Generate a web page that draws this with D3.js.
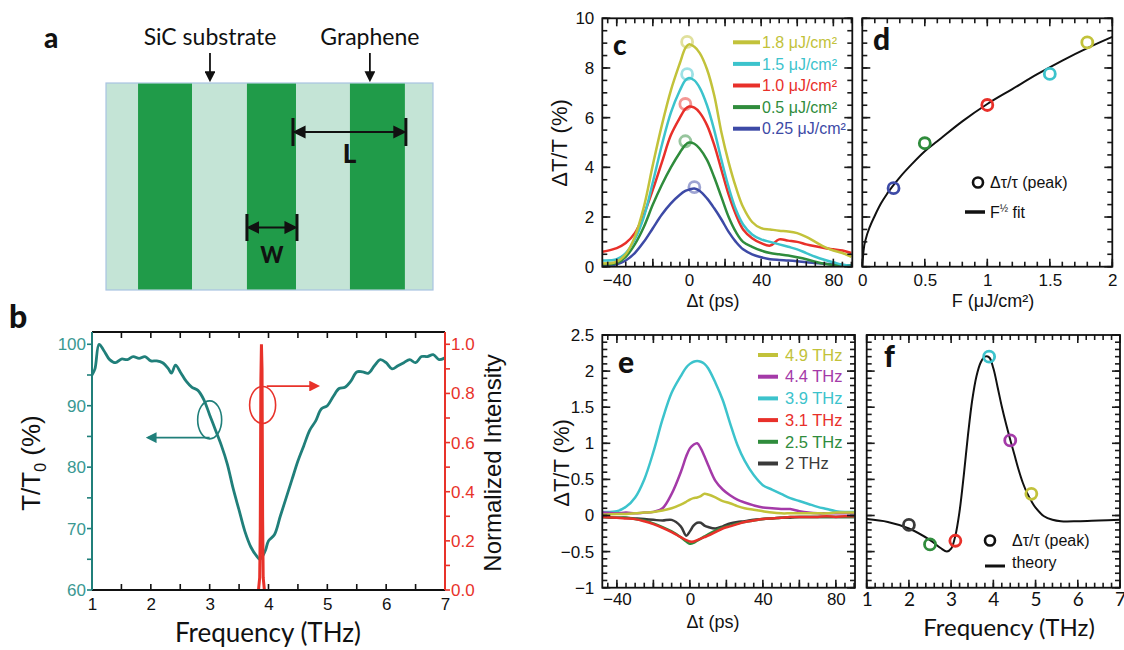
<!DOCTYPE html>
<html>
<head>
<meta charset="utf-8">
<script src="https://cdn.jsdelivr.net/npm/d3@7"></script>
<style>
  body { margin: 0; background: #fff; }
  svg { display: block; font-family: "Liberation Sans", Arial, sans-serif; }
</style>
</head>
<body>
<svg id="fig" width="1124" height="650"></svg>
<script>
// ----- data -----

// panel a: stripe layout (in % of the sample width)
const aStripes = [[9.8, 26.3], [43.1, 58.1], [74.6, 91.4]];
const aArrows = [{ label: "SiC substrate", at: 31.8 }, { label: "Graphene", at: 80.7 }];

// panel b: transmission and laser line
const bFreq = [1.0, 1.05, 1.12, 1.2, 1.3, 1.4, 1.5, 1.6, 1.7, 1.8, 1.9, 2.0, 2.1, 2.2, 2.3, 2.35, 2.42, 2.5, 2.6, 2.7, 2.8, 2.9, 3.0, 3.1, 3.2, 3.3, 3.4, 3.5, 3.6, 3.7, 3.8, 3.85, 3.9, 3.95, 4.0, 4.1, 4.2, 4.3, 4.4, 4.5, 4.6, 4.7, 4.8, 4.9, 5.0, 5.1, 5.2, 5.3, 5.4, 5.5, 5.6, 5.7, 5.8, 5.9, 6.0, 6.1, 6.2, 6.3, 6.4, 6.5, 6.6, 6.7, 6.8, 6.9, 7.0];
const bTrans = [95, 96, 100, 99, 97.5, 97, 97.6, 97.5, 98, 97.7, 98, 97.3, 97.3, 97, 96, 95.3, 96.6, 95.5, 94, 93, 92.5, 91, 88.5, 86, 83.5, 80.5, 76.5, 73, 69.5, 67, 65.5, 65, 65.5, 66.5, 68, 69, 72, 75, 78, 81, 83.5, 86, 87.5, 89.5, 90, 91.5, 92.8, 93, 94, 95.5, 95.5, 95.3, 96.5, 97.5, 97, 96, 96.5, 97, 97.5, 97, 98, 98, 98.3, 97.5, 97.8];
const bLaserFreq = [3.83, 3.85, 3.86, 3.87, 3.88, 3.89, 3.90, 3.91, 3.93];
const bLaserInt = [0, 0.05, 0.25, 0.85, 1.0, 0.9, 0.3, 0.05, 0];

// panel c: pump-fluence dependence
const cTime = [-48, -40, -35, -30, -25, -20, -15, -10, -5, -2, 0, 3, 6, 10, 14, 18, 22, 26, 30, 35, 40, 45, 50, 55, 60, 65, 70, 75, 80, 85, 90];
const cLabels = ["1.8 μJ/cm²", "1.5 μJ/cm²", "1.0 μJ/cm²", "0.5 μJ/cm²", "0.25 μJ/cm²"];
const cColors = ["#c2c23a", "#3cc3cc", "#e8302a", "#2f8c3c", "#3d4aa6"];
const c18 = [0.13, 0.2, 0.5, 1.2, 2.4, 4.1, 5.7, 7.1, 8.2, 8.8, 8.95, 8.85, 8.6, 7.95, 6.9, 5.4, 4.2, 3.2, 2.4, 1.8, 1.55, 1.5, 1.45, 1.42, 1.35, 1.2, 1.0, 0.8, 0.65, 0.55, 0.4];
const c15 = [0.25, 0.3, 0.55, 1.1, 2.0, 3.4, 4.9, 6.2, 7.1, 7.5, 7.6, 7.5, 7.2, 6.5, 5.5, 4.3, 3.2, 2.3, 1.7, 1.3, 1.1, 1.0, 0.9, 0.8, 0.7, 0.55, 0.4, 0.28, 0.18, 0.08, 0.03];
const c10 = [0.6, 0.75, 0.95, 1.35, 2.1, 3.1, 4.2, 5.3, 6.0, 6.35, 6.45, 6.4, 6.2, 5.7, 4.9, 3.9, 2.9, 2.1, 1.5, 1.15, 0.95, 0.85, 1.1, 1.05, 1.0, 0.9, 0.82, 0.75, 0.7, 0.65, 0.55];
const c05 = [0.1, 0.15, 0.4, 0.9, 1.6, 2.5, 3.3, 4.0, 4.6, 4.9, 5.0, 4.95, 4.75, 4.3, 3.6, 2.8, 2.0, 1.4, 1.0, 0.8, 0.65, 0.55, 0.5, 0.45, 0.38, 0.3, 0.2, 0.12, 0.07, 0.05, 0.05];
const c025 = [0.05, 0.1, 0.25, 0.55, 1.0, 1.55, 2.1, 2.55, 2.9, 3.05, 3.1, 3.15, 3.05, 2.75, 2.35, 1.9, 1.4, 1.0, 0.7, 0.5, 0.38, 0.3, 0.27, 0.25, 0.22, 0.18, 0.15, 0.12, 0.1, 0.07, 0.05];
const cPeakTime = [-1, -1, -2, -2, 3];
const cPeakVal = [9.05, 7.75, 6.55, 5.05, 3.2];

// panel d: peak vs fluence
const dFluence = [0.25, 0.5, 1, 1.5, 1.8];
const dPeak = [3.16, 4.97, 6.51, 7.76, 9.03];
const dColors = ["#3d4aa6", "#2f8c3c", "#e8302a", "#3cc3cc", "#c2c23a"];
const dFitF = [0, 0.01, 0.03, 0.06, 0.1, 0.15, 0.2, 0.3, 0.4, 0.5, 0.6, 0.8, 1.0, 1.2, 1.4, 1.6, 1.8, 2.0];
const dFitV = [0, 0.65, 1.15, 1.6, 2.05, 2.55, 2.95, 3.6, 4.15, 4.65, 5.05, 5.85, 6.55, 7.15, 7.75, 8.3, 8.8, 9.25];

// panel e: probe-frequency dependence
const eTime = [-48, -40, -35, -30, -25, -20, -15, -10, -5, -2, 0, 2, 4, 6, 8, 10, 14, 18, 22, 26, 30, 35, 40, 45, 50, 55, 60, 65, 70, 75, 80, 85, 90];
const eLabels = ["4.9 THz", "4.4 THz", "3.9 THz", "3.1 THz", "2.5 THz", "2 THz"];
const eColors = ["#c2c23a", "#a43aa8", "#3cc3cc", "#e8302a", "#2f8c3c", "#3a3a3a"];
const e49 = [0.01, 0.02, 0.02, 0.03, 0.04, 0.05, 0.07, 0.1, 0.15, 0.19, 0.22, 0.24, 0.25, 0.27, 0.3, 0.29, 0.25, 0.2, 0.17, 0.13, 0.1, 0.08, 0.06, 0.04, 0.03, 0.03, 0.03, 0.03, 0.03, 0.03, 0.04, 0.04, 0.04];
const e44 = [0.04, 0.03, 0.04, 0.03, 0.04, 0.05, 0.1, 0.3, 0.6, 0.82, 0.93, 0.98, 1.0, 0.93, 0.82, 0.7, 0.48, 0.36, 0.28, 0.22, 0.18, 0.14, 0.11, 0.1, 0.09, 0.09, 0.06, 0.04, 0.03, 0.03, 0.03, 0.03, 0.03];
const e39 = [0.05, 0.06, 0.12, 0.25, 0.5, 0.88, 1.33, 1.7, 1.93, 2.05, 2.1, 2.13, 2.14, 2.13, 2.1, 2.04, 1.84, 1.6, 1.28, 0.98, 0.76, 0.56, 0.42, 0.36, 0.3, 0.24, 0.2, 0.16, 0.12, 0.09, 0.06, 0.05, 0.05];
const e31 = [-0.02, -0.03, -0.04, -0.05, -0.08, -0.12, -0.17, -0.23, -0.3, -0.34, -0.36, -0.36, -0.34, -0.32, -0.3, -0.28, -0.23, -0.18, -0.15, -0.12, -0.09, -0.07, -0.05, -0.04, -0.03, -0.02, -0.02, -0.02, -0.02, -0.01, -0.02, -0.01, -0.01];
const e25 = [-0.02, -0.03, -0.03, -0.05, -0.07, -0.11, -0.16, -0.22, -0.3, -0.36, -0.39, -0.38, -0.35, -0.32, -0.29, -0.26, -0.21, -0.17, -0.14, -0.11, -0.09, -0.07, -0.05, -0.04, -0.03, -0.02, -0.02, -0.02, -0.02, -0.02, -0.02, -0.02, -0.02];
const e20 = [-0.02, -0.03, -0.03, -0.04, -0.05, -0.06, -0.07, -0.06, -0.15, -0.28, -0.22, -0.14, -0.1, -0.1, -0.14, -0.16, -0.18, -0.15, -0.11, -0.09, -0.08, -0.06, -0.05, -0.04, -0.03, -0.03, -0.02, -0.02, -0.02, -0.02, -0.02, -0.02, -0.02];

// panel f: peak vs probe frequency
const fFreq = [2, 2.5, 3.1, 3.9, 4.4, 4.9];
const fPeak = [-0.13, -0.4, -0.35, 2.2, 1.04, 0.3];
const fColors = ["#3a3a3a", "#2f8c3c", "#e8302a", "#3cc3cc", "#a43aa8", "#c2c23a"];
const fTheoryF = [1, 1.5, 2, 2.5, 2.75, 2.9, 3.0, 3.1, 3.2, 3.3, 3.4, 3.5, 3.6, 3.7, 3.8, 3.9, 4.0, 4.1, 4.2, 4.3, 4.4, 4.5, 4.6, 4.7, 4.8, 4.9, 5.0, 5.2, 5.4, 5.6, 6, 6.5, 7];
const fTheoryV = [-0.05, -0.09, -0.18, -0.34, -0.45, -0.5, -0.46, -0.28, 0.06, 0.56, 1.12, 1.6, 1.93, 2.12, 2.2, 2.19, 2.04, 1.78, 1.51, 1.27, 1.05, 0.84, 0.63, 0.45, 0.31, 0.2, 0.11, -0.01, -0.06, -0.08, -0.08, -0.07, -0.06];

// ----- drawing -----
const svg = d3.select("#fig");
const TEAL = "#207f7a", TEAL_TXT = "#3a9892", RED = "#e8322a";
const ARIAL = "Liberation Sans, Arial, sans-serif";
const CAL = "Lato, 'Open Sans', sans-serif";

const defs = svg.append("defs");
function marker(id, color) {
  defs.append("marker").attr("id", id).attr("viewBox", "0 0 10 10")
    .attr("refX", 8).attr("refY", 5).attr("markerWidth", 6).attr("markerHeight", 6)
    .attr("orient", "auto-start-reverse")
    .append("path").attr("d", "M0,0 L10,5 L0,10 z").attr("fill", color);
}
marker("arrBlack", "#111");
marker("arrTeal", TEAL);
marker("arrRed", RED);

function clip(id, x, y) {
  defs.append("clipPath").attr("id", id).append("rect")
    .attr("x", x.range()[0]).attr("y", y.range()[1])
    .attr("width", x.range()[1] - x.range()[0]).attr("height", y.range()[0] - y.range()[1]);
}

// tick marks: side = "bottom" | "top" | "left" | "right", len > 0 points into the plot
function tickMarks(g, scale, vals, side, at, len, color) {
  const horiz = side === "bottom" || side === "top";
  const dir = (side === "bottom" || side === "right") ? -1 : 1;
  g.append("g").selectAll("line").data(vals).enter().append("line")
    .attr("x1", d => horiz ? scale(d) : at)
    .attr("x2", d => horiz ? scale(d) : at + dir * len)
    .attr("y1", d => horiz ? at : scale(d))
    .attr("y2", d => horiz ? at + dir * len : scale(d))
    .attr("stroke", color || "#1a1a1a").attr("stroke-width", 1.6);
}

// tick labels from d3 axes
function labels(g, axis, tr, vals, fmt, pad, font, family, color) {
  g.append("g").attr("transform", tr)
    .call(axis.tickValues(vals).tickSize(0).tickPadding(pad).tickFormat(fmt))
    .call(s => s.select(".domain").remove())
    .call(s => s.selectAll("line").remove())
    .attr("font-size", font).attr("font-family", family)
    .selectAll("text").attr("fill", color || "#111");
}

// frame with inward ticks on all four sides
function box(x, y, o) {
  const g = svg.append("g");
  const [x0, x1] = x.range(), [y0, y1] = y.range();
  tickMarks(g, x, o.xMinor, "bottom", y0, 5);
  tickMarks(g, x, o.xMajor, "bottom", y0, 8);
  tickMarks(g, x, o.xMinor, "top", y1, 5);
  tickMarks(g, x, o.xMajor, "top", y1, 8);
  tickMarks(g, y, o.yMinor, "left", x0, 5);
  tickMarks(g, y, o.yMajor, "left", x0, 8);
  tickMarks(g, y, o.yMinor, "right", x1, 5);
  tickMarks(g, y, o.yMajor, "right", x1, 8);
  if (o.xFmt) labels(g, d3.axisBottom(x), `translate(0,${y0})`, o.xMajor, o.xFmt, o.xPad, o.font || 17, o.family || ARIAL);
  if (o.yFmt) labels(g, d3.axisLeft(y), `translate(${x0},0)`, o.yMajor, o.yFmt, o.yPad, o.font || 17, o.family || ARIAL);
  g.append("rect").attr("x", x0).attr("y", y1).attr("width", x1 - x0).attr("height", y0 - y1)
    .attr("fill", "none").attr("stroke", "#111").attr("stroke-width", 1.8);
  return g;
}

function panelLabel(t, x, y, size) {
  svg.append("text").attr("x", x).attr("y", y).text(t)
    .attr("font-family", CAL).attr("font-weight", "900").attr("font-size", size || 26).attr("fill", "#111");
}

// ===== panel a =====
const aX = d3.scaleLinear().domain([0, 100]).range([106, 433]);
const aTop = 83, aBot = 290;
svg.append("rect").attr("x", aX(0)).attr("y", aTop).attr("width", aX(100) - aX(0)).attr("height", aBot - aTop)
  .attr("fill", "#c4e4d6").attr("stroke", "#a9c3e2").attr("stroke-width", 1.2);
svg.selectAll(".stripe").data(aStripes).enter().append("rect")
  .attr("x", d => aX(d[0])).attr("y", aTop + 0.6).attr("width", d => aX(d[1]) - aX(d[0])).attr("height", aBot - aTop - 1.2)
  .attr("fill", "#209b49");
aArrows.forEach(a => {
  svg.append("text").attr("x", aX(a.at)).attr("y", 45).attr("text-anchor", "middle")
    .attr("font-family", CAL).attr("font-size", 23).attr("fill", "#111").text(a.label);
  svg.append("line").attr("x1", aX(a.at)).attr("x2", aX(a.at)).attr("y1", 53).attr("y2", 80)
    .attr("stroke", "#111").attr("stroke-width", 1.8).attr("marker-end", "url(#arrBlack)");
});
function dimension(xa, xb, yTop, yBot, label, ly, size) {
  const ym = (yTop + yBot) / 2;
  [xa, xb].forEach(v => svg.append("line").attr("x1", v).attr("x2", v).attr("y1", yTop).attr("y2", yBot)
    .attr("stroke", "#111").attr("stroke-width", 3));
  svg.append("line").attr("x1", xa + 2).attr("x2", xb - 2).attr("y1", ym).attr("y2", ym)
    .attr("stroke", "#111").attr("stroke-width", 2.2)
    .attr("marker-start", "url(#arrBlack)").attr("marker-end", "url(#arrBlack)");
  svg.append("text").attr("x", (xa + xb) / 2).attr("y", ly).attr("text-anchor", "middle")
    .attr("font-family", CAL).attr("font-weight", "900").attr("font-size", size).attr("fill", "#111").text(label);
}
dimension(aX(aStripes[1][1]) - 3, aX(aStripes[2][1]) + 1, 118, 146, "L", 163, 26);
dimension(aX(aStripes[1][0]), aX(aStripes[1][1]) + 1, 214, 241, "W", 263, 22);
panelLabel("a", 44, 48, 28);

// ===== panel b =====
const bX = d3.scaleLinear().domain([1, 7]).range([92, 445]);
const bYL = d3.scaleLinear().domain([60, 102]).range([590, 332]);
const bYR = d3.scaleLinear().domain([0, 1.05]).range([590, 332]);
clip("clipB", bX, bYL);

svg.append("path").datum(bFreq.map((f, i) => [f, bTrans[i]]))
  .attr("clip-path", "url(#clipB)")
  .attr("fill", "none").attr("stroke", TEAL).attr("stroke-width", 2.8)
  .attr("d", d3.line().x(d => bX(d[0])).y(d => bYL(d[1])).curve(d3.curveCatmullRom));
svg.append("path").datum(bLaserFreq.map((f, i) => [f, bLaserInt[i]]))
  .attr("fill", "none").attr("stroke", RED).attr("stroke-width", 3)
  .attr("d", d3.line().x(d => bX(d[0])).y(d => bYR(d[1])));

// annotations
svg.append("ellipse").attr("cx", bX(3.0)).attr("cy", bYL(87.7)).attr("rx", 12).attr("ry", 19)
  .attr("fill", "none").attr("stroke", TEAL).attr("stroke-width", 1.6);
svg.append("line").attr("x1", bX(3.0)).attr("x2", bX(1.95)).attr("y1", bYL(84.8)).attr("y2", bYL(84.8))
  .attr("stroke", TEAL).attr("stroke-width", 1.8).attr("marker-end", "url(#arrTeal)");
svg.append("ellipse").attr("cx", bX(3.9)).attr("cy", bYR(0.753)).attr("rx", 13).attr("ry", 18.5)
  .attr("fill", "none").attr("stroke", RED).attr("stroke-width", 1.6);
svg.append("line").attr("x1", bX(3.97)).attr("x2", bX(4.84)).attr("y1", bYR(0.83)).attr("y2", bYR(0.83))
  .attr("stroke", RED).attr("stroke-width", 1.8).attr("marker-end", "url(#arrRed)");

// axes of b
const bG = svg.append("g");
const bXTicks = d3.range(1, 7.01, 0.5);
tickMarks(bG, bX, bXTicks, "bottom", 590, 6, "#111");
tickMarks(bG, bX, bXTicks, "top", 332, 6, "#111");
tickMarks(bG, bYL, d3.range(60, 101, 5), "left", 92, -5, TEAL);
tickMarks(bG, bYR, d3.range(0, 1.01, 0.1), "right", 445, -5, RED);
labels(bG, d3.axisBottom(bX), "translate(0,590)", d3.range(1, 8), d3.format("d"), 8, 17, ARIAL);
labels(bG, d3.axisLeft(bYL), "translate(92,0)", d3.range(60, 101, 10), d3.format("d"), 6, 17, ARIAL, TEAL_TXT);
labels(bG, d3.axisRight(bYR), "translate(445,0)", d3.range(0, 1.01, 0.2), d3.format(".1f"), 6, 17, ARIAL, RED);
bG.append("line").attr("x1", 92).attr("x2", 445).attr("y1", 332).attr("y2", 332).attr("stroke", "#111").attr("stroke-width", 1.8);
bG.append("line").attr("x1", 92).attr("x2", 445).attr("y1", 590).attr("y2", 590).attr("stroke", "#111").attr("stroke-width", 1.8);
bG.append("line").attr("x1", 92).attr("x2", 92).attr("y1", 332).attr("y2", 590).attr("stroke", TEAL).attr("stroke-width", 2);
bG.append("line").attr("x1", 445).attr("x2", 445).attr("y1", 332).attr("y2", 590).attr("stroke", RED).attr("stroke-width", 2);

const bYTitle = svg.append("text").attr("transform", "translate(40,463) rotate(-90)")
  .attr("text-anchor", "middle").attr("font-family", ARIAL).attr("font-size", 26).attr("fill", "#111");
bYTitle.append("tspan").text("T/T");
bYTitle.append("tspan").attr("font-size", 16).attr("dy", 6).text("0");
bYTitle.append("tspan").attr("dy", -6).text(" (%)");
svg.append("text").attr("transform", "translate(501,463) rotate(-90)")
  .attr("text-anchor", "middle").attr("font-family", ARIAL).attr("font-size", 24).attr("fill", "#111")
  .text("Normalized Intensity");
svg.append("text").attr("x", 268).attr("y", 642).attr("text-anchor", "middle")
  .attr("font-family", CAL).attr("font-size", 26).attr("fill", "#111").text("Frequency (THz)");
panelLabel("b", 9, 328, 32);

// ===== panel c =====
const cX = d3.scaleLinear().domain([-48, 90.5]).range([602.3, 852.3]);
const cY = d3.scaleLinear().domain([0, 10]).range([266.7, 18.3]);
clip("clipC", cX, cY);
const cSeries = [c18, c15, c10, c05, c025];
const cLine = d3.line().x(d => cX(d[0])).y(d => cY(d[1])).curve(d3.curveCatmullRom);
cSeries.slice().reverse().forEach((s, ri) => {
  const i = cSeries.length - 1 - ri;
  svg.append("path").datum(cTime.map((t, k) => [t, s[k]]))
    .attr("clip-path", "url(#clipC)")
    .attr("fill", "none").attr("stroke", cColors[i]).attr("stroke-width", 2.5).attr("d", cLine);
});
svg.selectAll(".cpk").data(cPeakTime).enter().append("circle")
  .attr("cx", d => cX(d)).attr("cy", (d, i) => cY(cPeakVal[i])).attr("r", 5.5)
  .attr("fill", "none").attr("stroke", (d, i) => cColors[i]).attr("stroke-width", 2.8).attr("stroke-opacity", 0.5);
box(cX, cY, {
  xMajor: [-40, -20, 0, 20, 40, 60, 80], xMinor: d3.range(-45, 91, 5),
  xFmt: d => d % 40 === 0 ? d3.format("")(d) : "", xPad: 7,
  yMajor: d3.range(0, 10.1, 2), yMinor: d3.range(0, 10.1, 0.5), yFmt: d3.format(""), yPad: 8
});
const cLeg = svg.append("g").selectAll("g").data(cLabels).enter().append("g")
  .attr("transform", (d, i) => `translate(733,${42.3 + i * 21.6})`);
cLeg.append("line").attr("x1", 0).attr("x2", 27).attr("stroke", (d, i) => cColors[i]).attr("stroke-width", 4);
cLeg.append("text").attr("x", 29).attr("dy", "0.35em").attr("font-size", 16).attr("fill", (d, i) => cColors[i]).text(d => d);
svg.append("text").attr("transform", "translate(567,143) rotate(-90)").attr("text-anchor", "middle")
  .attr("font-size", 22).attr("fill", "#111").text("ΔT/T (%)");
svg.append("text").attr("x", 713).attr("y", 307).attr("text-anchor", "middle")
  .attr("font-size", 18).attr("fill", "#111").text("Δt (ps)");
panelLabel("c", 613, 55, 28);

// ===== panel d =====
const dX = d3.scaleLinear().domain([0, 2]).range([862.3, 1112.3]);
const dY = cY;
clip("clipD", dX, dY);
svg.append("path").datum(dFitF.map((f, i) => [f, dFitV[i]]))
  .attr("clip-path", "url(#clipD)")
  .attr("fill", "none").attr("stroke", "#111").attr("stroke-width", 2)
  .attr("d", d3.line().x(d => dX(d[0])).y(d => dY(d[1])).curve(d3.curveMonotoneX));
svg.selectAll(".dpt").data(dFluence).enter().append("circle")
  .attr("cx", d => dX(d)).attr("cy", (d, i) => dY(dPeak[i])).attr("r", 5.5)
  .attr("fill", "none").attr("stroke", (d, i) => dColors[i]).attr("stroke-width", 2.8);
box(dX, dY, {
  xMajor: [0, 0.5, 1, 1.5, 2], xMinor: d3.range(0, 2.01, 0.1), xFmt: d3.format(""), xPad: 7,
  yMajor: d3.range(0, 10.1, 2), yMinor: d3.range(0, 10.1, 0.5), yFmt: null
});
svg.append("circle").attr("cx", 978).attr("cy", 182.5).attr("r", 5).attr("fill", "none")
  .attr("stroke", "#111").attr("stroke-width", 2.6);
svg.append("text").attr("x", 990).attr("y", 182.5).attr("dy", "0.35em").attr("font-size", 16)
  .attr("fill", "#111").text("Δτ/τ (peak)");
svg.append("line").attr("x1", 965).attr("x2", 985).attr("y1", 212).attr("y2", 212).attr("stroke", "#111").attr("stroke-width", 3.5);
const dFitTxt = svg.append("text").attr("x", 990).attr("y", 212).attr("dy", "0.35em").attr("font-size", 16).attr("fill", "#111");
dFitTxt.append("tspan").text("F");
dFitTxt.append("tspan").attr("font-size", 10).attr("dy", -6).text("½");
dFitTxt.append("tspan").attr("dy", 6).text(" fit");
svg.append("text").attr("x", 993).attr("y", 307).attr("text-anchor", "middle")
  .attr("font-size", 18).attr("fill", "#111").text("F (μJ/cm²)");
panelLabel("d", 873, 50, 30);

// ===== panel e =====
const eX = d3.scaleLinear().domain([-48, 90.5]).range([602.3, 855]);
const eY = d3.scaleLinear().domain([-1, 2.5]).range([587.7, 335]);
clip("clipE", eX, eY);
const eSeries = [e49, e44, e39, e31, e25, e20];
const eLine = d3.line().x(d => eX(d[0])).y(d => eY(d[1])).curve(d3.curveCatmullRom);
[2, 1, 0, 5, 4, 3].forEach(i => {
  svg.append("path").datum(eTime.map((t, k) => [t, eSeries[i][k]]))
    .attr("clip-path", "url(#clipE)")
    .attr("fill", "none").attr("stroke", eColors[i]).attr("stroke-width", 2.5).attr("d", eLine);
});
box(eX, eY, {
  xMajor: [-40, -20, 0, 20, 40, 60, 80], xMinor: d3.range(-45, 91, 5),
  xFmt: d => d % 40 === 0 ? d3.format("")(d) : "", xPad: 5,
  yMajor: d3.range(-1, 2.51, 0.5), yMinor: d3.range(-1, 2.51, 0.1), yFmt: d3.format(""), yPad: 8
});
const eLeg = svg.append("g").selectAll("g").data(eLabels).enter().append("g")
  .attr("transform", (d, i) => `translate(758,${355 + i * 21.7})`);
eLeg.append("line").attr("x1", 0).attr("x2", 20).attr("stroke", (d, i) => eColors[i]).attr("stroke-width", 4);
eLeg.append("text").attr("x", 27).attr("dy", "0.35em").attr("font-size", 16.5).attr("fill", (d, i) => eColors[i]).text(d => d);
svg.append("text").attr("transform", "translate(569,463) rotate(-90)").attr("text-anchor", "middle")
  .attr("font-size", 22).attr("fill", "#111").text("ΔT/T (%)");
svg.append("text").attr("x", 713).attr("y", 628).attr("text-anchor", "middle")
  .attr("font-size", 18).attr("fill", "#111").text("Δt (ps)");
panelLabel("e", 618, 373, 30);

// ===== panel f =====
const fX = d3.scaleLinear().domain([1, 7]).range([866.7, 1120]);
const fY = eY;
clip("clipF", fX, fY);
svg.append("path").datum(fTheoryF.map((f, i) => [f, fTheoryV[i]]))
  .attr("clip-path", "url(#clipF)")
  .attr("fill", "none").attr("stroke", "#111").attr("stroke-width", 2)
  .attr("d", d3.line().x(d => fX(d[0])).y(d => fY(d[1])).curve(d3.curveCatmullRom));
svg.selectAll(".fpt").data(fFreq).enter().append("circle")
  .attr("cx", d => fX(d)).attr("cy", (d, i) => fY(fPeak[i])).attr("r", 5.5)
  .attr("fill", "none").attr("stroke", (d, i) => fColors[i]).attr("stroke-width", 2.8);
box(fX, fY, {
  xMajor: d3.range(1, 7.01, 1), xMinor: d3.range(1, 7.01, 0.2), xFmt: d3.format(""), xPad: 5,
  yMajor: d3.range(-1, 2.51, 0.5), yMinor: d3.range(-1, 2.51, 0.1), yFmt: null,
  family: CAL, font: 19
});
svg.append("circle").attr("cx", 990).attr("cy", 540.5).attr("r", 5).attr("fill", "none")
  .attr("stroke", "#111").attr("stroke-width", 2.6);
svg.append("text").attr("x", 1012).attr("y", 540.5).attr("dy", "0.35em").attr("font-size", 16)
  .attr("fill", "#111").text("Δτ/τ (peak)");
svg.append("line").attr("x1", 985).attr("x2", 1005).attr("y1", 566).attr("y2", 566).attr("stroke", "#111").attr("stroke-width", 3);
svg.append("text").attr("x", 1012).attr("y", 562).attr("dy", "0.35em").attr("font-size", 16)
  .attr("fill", "#111").text("theory");
svg.append("text").attr("x", 1009).attr("y", 636).attr("text-anchor", "middle")
  .attr("font-family", CAL).attr("font-size", 24).attr("fill", "#111").text("Frequency (THz)");
panelLabel("f", 884, 367, 30);
</script>
</body>
</html>
